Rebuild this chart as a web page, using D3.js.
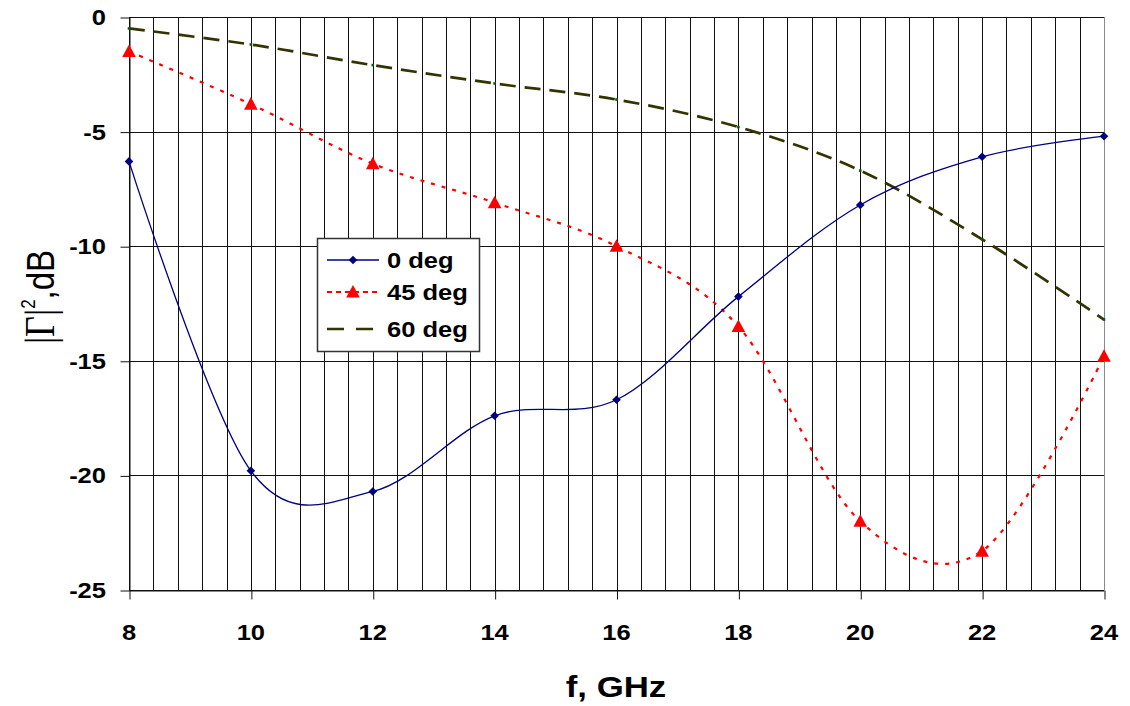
<!DOCTYPE html>
<html>
<head>
<meta charset="utf-8">
<script src="https://cdn.jsdelivr.net/npm/d3@7"></script>
<style>
  html, body { margin: 0; padding: 0; background: #fff; }
  svg { display: block; }
</style>
</head>
<body>
<svg id="chart" width="1130" height="706"></svg>
<script>
// Reflection |Γ|² versus frequency for three incidence angles
const freqGHz = [8, 10, 12, 14, 16, 18, 20, 22, 24];
const gamma0deg  = [-6.3, -19.8, -20.7, -17.4, -16.7, -12.2, -8.2, -6.1, -5.2];
const gamma45deg = [-1.5, -3.8, -6.4, -8.1, -10.0, -13.5, -22.0, -23.3, -14.8];
const gamma60deg = [-0.5, -1.2, -2.1, -2.9, -3.6, -4.8, -6.7, -9.7, -13.2];
const seriesNames = ["0 deg", "45 deg", "60 deg"];
const xTickValues = [8, 10, 12, 14, 16, 18, 20, 22, 24];
const yTickValues = [0, -5, -10, -15, -20, -25];
const xMinorStep = 0.4;

const svg = d3.select("#chart");
const plot = { left: 129, right: 1104, top: 17, bottom: 590 };
const x = d3.scaleLinear().domain([8, 24]).range([plot.left, plot.right]);
const y = d3.scaleLinear().domain([-25, 0]).range([plot.bottom, plot.top]);
const px = v => Math.round(v) + 0.5;

const SANS = "'Liberation Sans', Arial, sans-serif";
const SERIF = "'Liberation Serif', 'Times New Roman', serif";
const STRETCH = 1.16; // glyphs are a little wide

// vertical grid every 0.4 GHz
const vGrid = d3.range(0, Math.round((24 - 8) / xMinorStep) + 1).map(i => 8 + i * xMinorStep);
svg.append("g").selectAll("line").data(vGrid).join("line")
  .attr("x1", d => px(x(d))).attr("x2", d => px(x(d)))
  .attr("y1", plot.top).attr("y2", plot.bottom)
  .attr("stroke", (d, i) => i === vGrid.length - 1 ? "#8a8a8a" : "#111")
  .attr("stroke-width", 1);

// horizontal grid every 5 dB
svg.append("g").selectAll("line").data(yTickValues).join("line")
  .attr("x1", plot.left).attr("x2", plot.right)
  .attr("y1", d => px(y(d))).attr("y2", d => px(y(d)))
  .attr("stroke", "#111").attr("stroke-width", 1);

// y axis ticks and labels
const yAxis = d3.axisLeft(y).tickValues(yTickValues).tickSize(9).tickSizeOuter(0).tickFormat(d3.format("d"));
const gy = svg.append("g").attr("transform", `translate(${px(plot.left)},0)`).call(yAxis);
gy.select(".domain").attr("stroke", "#111");
gy.selectAll(".tick line").attr("stroke", "#111").attr("transform", "translate(0,0.5)");
gy.selectAll(".tick text").remove();
svg.append("g").selectAll("text").data(yTickValues).join("text")
  .attr("transform", d => `translate(106,${y(d) + 8}) scale(${STRETCH},1)`)
  .attr("text-anchor", "end")
  .style("font-family", SANS).style("font-weight", "bold").style("font-size", "22px")
  .attr("fill", "#000")
  .text(d => d);

// x axis ticks and labels
const xAxis = d3.axisBottom(x).tickValues(xTickValues).tickSize(9).tickSizeOuter(0);
const gx = svg.append("g").attr("transform", `translate(0,${px(plot.bottom)})`).call(xAxis);
gx.select(".domain").attr("stroke", "#111");
gx.selectAll(".tick line").attr("stroke", "#111").attr("transform", "translate(0.5,0)");
gx.selectAll(".tick text").remove();
svg.append("g").selectAll("text").data(xTickValues).join("text")
  .attr("transform", d => `translate(${x(d)},640) scale(${STRETCH},1)`)
  .attr("text-anchor", "middle")
  .style("font-family", SANS).style("font-weight", "bold").style("font-size", "22px")
  .attr("fill", "#000")
  .text(d => d);

// axis titles
svg.append("text")
  .attr("transform", `translate(616,697) scale(${STRETCH},1)`)
  .attr("text-anchor", "middle")
  .style("font-family", SANS).style("font-weight", "bold").style("font-size", "30px")
  .text("f, GHz");

const yTitle = svg.append("text")
  .attr("transform", `translate(54,297) scale(${STRETCH},1) rotate(-90)`)
  .attr("text-anchor", "middle")
  .style("font-size", "33px");
yTitle.append("tspan").style("font-family", SERIF).style("font-size", "36px").text("|Γ|");
yTitle.append("tspan").style("font-family", SANS).style("font-size", "17px").attr("dy", -16).text("2");
yTitle.append("tspan").style("font-family", SANS).attr("dy", 16).text(",dB");

// series
const series = [
  { name: seriesNames[0], values: gamma0deg,  color: "#000080", width: 1.3, dash: null,   marker: "diamond" },
  { name: seriesNames[1], values: gamma45deg, color: "#ff0000", width: 2.2, dash: "4,7",  marker: "triangle" },
  { name: seriesNames[2], values: gamma60deg, color: "#333300", width: 2.7, dash: "16,9", marker: "dot" }
];

const line = d3.line()
  .x(d => x(d[0]))
  .y(d => y(d[1]))
  .curve(d3.curveCardinal.tension(0));

const markerPath = {
  diamond: "M0,-4.3L4.3,0L0,4.3L-4.3,0Z",
  triangle: "M0,-7L6.8,5.6L-6.8,5.6Z",
  dot: "M-1.3,-1.3h2.6v2.6h-2.6Z"
};
const markerFill = { diamond: "#000080", triangle: "#ff0000", dot: "#0b5a0b" };

// draw order: 60, 45, 0 so the thin blue curve stays on top
[series[2], series[1], series[0]].forEach(s => {
  const pts = freqGHz.map((f, i) => [f, s.values[i]]);
  svg.append("path")
    .attr("d", line(pts))
    .attr("fill", "none")
    .attr("stroke", s.color)
    .attr("stroke-width", s.width)
    .attr("stroke-dasharray", s.dash);
  svg.append("g").selectAll("path").data(pts).join("path")
    .attr("transform", d => `translate(${x(d[0])},${y(d[1])})`)
    .attr("d", markerPath[s.marker])
    .attr("fill", markerFill[s.marker]);
});

// legend
const legend = svg.append("g");
legend.append("rect")
  .attr("x", 317.5).attr("y", 238.5).attr("width", 162).attr("height", 113)
  .attr("fill", "#fff").attr("stroke", "#333").attr("stroke-width", 1.5);
const rowsY = [260, 292, 329];
series.forEach((s, i) => {
  const yy = rowsY[i];
  legend.append("line")
    .attr("x1", 327).attr("x2", 379).attr("y1", yy).attr("y2", yy)
    .attr("stroke", s.color).attr("stroke-width", s.width)
    .attr("stroke-dasharray", s.marker === "triangle" ? "5,4" : (s.dash ? "17,12" : null));
  if (s.marker !== "dot") {
    legend.append("path")
      .attr("transform", `translate(353,${yy})`)
      .attr("d", markerPath[s.marker])
      .attr("fill", markerFill[s.marker]);
  }
  legend.append("text")
    .attr("transform", `translate(387,${yy + 8}) scale(${STRETCH},1)`)
    .style("font-family", SANS).style("font-weight", "bold").style("font-size", "22px")
    .text(s.name);
});
</script>
</body>
</html>
